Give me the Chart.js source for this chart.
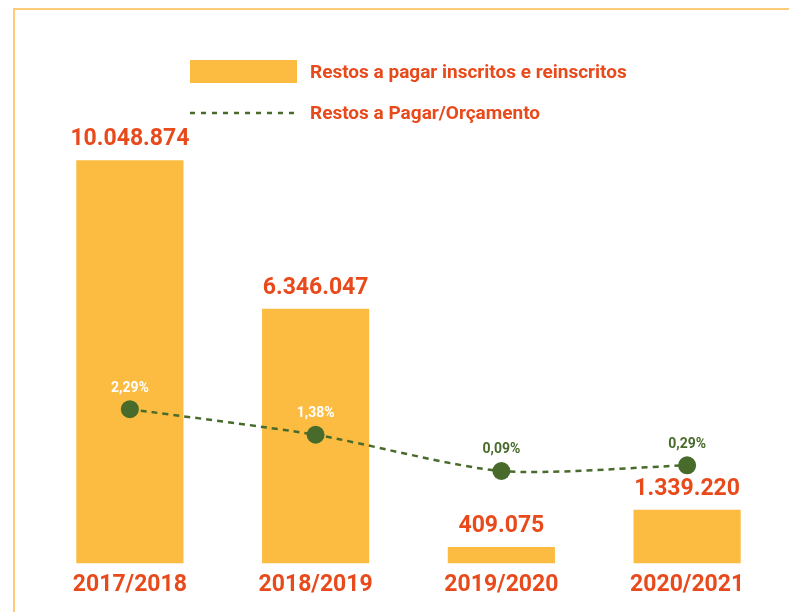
<!DOCTYPE html>
<html>
<head>
<meta charset="utf-8">
<script src="https://cdn.jsdelivr.net/npm/chart.js@4/dist/chart.umd.min.js"></script>
<style>
  html, body { margin: 0; padding: 0; background: #fff; overflow: hidden; }
  #frame { position: absolute; left: 13px; top: 8px; width: 800px; height: 620px;
           border-top: 2px solid #fcca78; border-left: 2px solid #fcca78; }
  #chart { position: absolute; left: 0; top: 0; }
</style>
</head>
<body>
<div id="frame"></div>
<canvas id="chart" width="789" height="612"></canvas>
<script>
const periods = ['2017/2018', '2018/2019', '2019/2020', '2020/2021'];
const restosPagar = [10048874, 6346047, 409075, 1339220];
const restosOrcamento = [2.29, 1.38, 0.09, 0.29];

const RED = '#e84a1c';
const YELLOW = '#fbbc41';
const GREEN = '#486b2b';
const fontfam = 'Roboto, "Noto Sans", "DejaVu Sans", sans-serif';

const fmtThousands = v => String(v).replace(/\B(?=(\d{3})+(?!\d))/g, '.');
const fmtPct = v => v.toFixed(2).replace('.', ',') + '%';

// legend drawn by hand, two stacked rows
const legendPlugin = {
    id: 'stackedLegend',
    afterDraw: chart => {
        const ctx = chart.ctx;
        const [bars, line] = chart.data.datasets;
        ctx.save();
        ctx.fillStyle = bars.backgroundColor;
        ctx.fillRect(190, 60, 107, 23);
        ctx.strokeStyle = line.borderColor;
        ctx.lineWidth = 2.5;
        ctx.setLineDash([5, 6]);
        ctx.beginPath();
        ctx.moveTo(190, 113);
        ctx.lineTo(297, 113);
        ctx.stroke();
        ctx.setLineDash([]);
        ctx.fillStyle = RED;
        ctx.font = `bold 19px ${fontfam}`;
        ctx.textBaseline = 'middle';
        ctx.textAlign = 'left';
        ctx.fillText(bars.label, 310, 73);
        ctx.fillText(line.label, 310, 114);
        ctx.restore();
    }
};

// value labels above bars and above points
const valueLabels = {
    id: 'valueLabels',
    afterDatasetsDraw: chart => {
        const ctx = chart.ctx;
        const barMeta = chart.getDatasetMeta(0);
        const lineMeta = chart.getDatasetMeta(1);
        ctx.save();
        ctx.textAlign = 'center';
        ctx.textBaseline = 'bottom';
        ctx.font = `bold 23px ${fontfam}`;
        ctx.fillStyle = RED;
        barMeta.data.forEach((el, i) => {
            ctx.fillText(fmtThousands(restosPagar[i]), el.x, el.y - 9);
        });
        ctx.font = `bold 14px ${fontfam}`;
        lineMeta.data.forEach((el, i) => {
            const inside = el.y - 26 > barMeta.data[i].y;
            ctx.fillStyle = inside ? '#ffffff' : GREEN;
            ctx.fillText(fmtPct(restosOrcamento[i]), el.x, el.y - 14);
        });
        ctx.restore();
    }
};

new Chart(document.getElementById('chart'), {
    type: 'bar',
    data: {
        labels: periods,
        datasets: [
            {
                type: 'bar',
                label: 'Restos a pagar inscritos e reinscritos',
                data: restosPagar,
                backgroundColor: YELLOW,
                yAxisID: 'y',
                barPercentage: 0.577,
                categoryPercentage: 1,
                order: 2
            },
            {
                type: 'line',
                label: 'Restos a Pagar/Orçamento',
                data: restosOrcamento,
                borderColor: GREEN,
                borderWidth: 2.5,
                borderDash: [6, 5],
                tension: 0.25,
                pointRadius: 9,
                pointHoverRadius: 9,
                pointBorderWidth: 0,
                pointBackgroundColor: GREEN,
                yAxisID: 'y2',
                order: 1
            }
        ]
    },
    options: {
        responsive: false,
        animation: false,
        layout: { padding: { left: 37, right: 3, top: 130, bottom: 13 } },
        scales: {
            x: {
                grid: { display: false },
                border: { display: false },
                ticks: {
                    padding: 0,
                    color: RED,
                    font: { family: fontfam, size: 23, weight: 'bold' }
                }
            },
            y: { display: false, min: 0, max: 10800000 },
            y2: { display: false, min: -3.2, max: 12.23 }
        },
        plugins: {
            legend: { display: false },
            tooltip: { enabled: false }
        }
    },
    plugins: [legendPlugin, valueLabels]
});
</script>
</body>
</html>
